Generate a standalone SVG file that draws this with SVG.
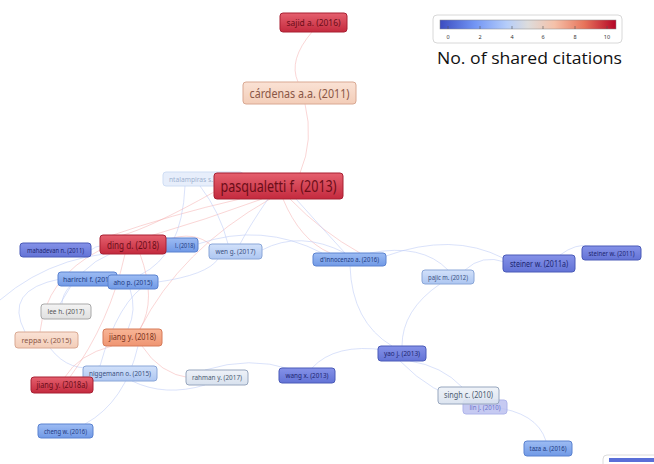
<svg xmlns="http://www.w3.org/2000/svg" width="654" height="464" viewBox="0 0 654 464">
<defs>
<linearGradient id="gBar" x1="0" y1="0" x2="1" y2="0">
<stop offset="0" stop-color="#3b4cc0"/><stop offset="0.2" stop-color="#7396f5"/><stop offset="0.38" stop-color="#b5cdfa"/><stop offset="0.5" stop-color="#dddcdc"/><stop offset="0.65" stop-color="#f5c1a9"/><stop offset="0.82" stop-color="#e7745b"/><stop offset="1" stop-color="#b40426"/>
</linearGradient>
<linearGradient id="gRed" x1="0" y1="0" x2="0" y2="1"><stop offset="0" stop-color="#e5606e"/><stop offset="1" stop-color="#c42a3e"/></linearGradient>
<linearGradient id="gPeach" x1="0" y1="0" x2="0" y2="1"><stop offset="0" stop-color="#fae2d5"/><stop offset="1" stop-color="#f3cdb8"/></linearGradient>
<linearGradient id="gOrange" x1="0" y1="0" x2="0" y2="1"><stop offset="0" stop-color="#f8b596"/><stop offset="1" stop-color="#ef9572"/></linearGradient>
<linearGradient id="gDark" x1="0" y1="0" x2="0" y2="1"><stop offset="0" stop-color="#8592e8"/><stop offset="1" stop-color="#6373d6"/></linearGradient>
<linearGradient id="gBlue" x1="0" y1="0" x2="0" y2="1"><stop offset="0" stop-color="#9dbcf3"/><stop offset="1" stop-color="#7099e6"/></linearGradient>
<linearGradient id="gLight" x1="0" y1="0" x2="0" y2="1"><stop offset="0" stop-color="#d2e1fa"/><stop offset="1" stop-color="#adc6f1"/></linearGradient>
<linearGradient id="gPale" x1="0" y1="0" x2="0" y2="1"><stop offset="0" stop-color="#eef2f8"/><stop offset="1" stop-color="#d8e1ee"/></linearGradient>
<linearGradient id="gGray" x1="0" y1="0" x2="0" y2="1"><stop offset="0" stop-color="#f4f4f4"/><stop offset="1" stop-color="#e0e0e0"/></linearGradient>
</defs>
<style>
text{font-family:"Noto Sans","DejaVu Sans",sans-serif}
.n rect{stroke-width:1}
.red rect{fill:url(#gRed);stroke:#a82033}.red text{fill:#6b0d18}
.peach rect{fill:url(#gPeach);stroke:#d9a892}.peach text{fill:#8a5645}
.orange rect{fill:url(#gOrange);stroke:#d67a58}.orange text{fill:#7a3420}
.dark rect{fill:url(#gDark);stroke:#4a5ab8}.dark text{fill:#1c2570}
.blue rect{fill:url(#gBlue);stroke:#5a82d0}.blue text{fill:#1e3a80}
.light rect{fill:url(#gLight);stroke:#8aa6d8}.light text{fill:#3a5080}
.pale rect{fill:url(#gPale);stroke:#97a6be}.pale text{fill:#4a5a70}
.gray rect{fill:url(#gGray);stroke:#a8a8a8}.gray text{fill:#555}
.faint rect{fill:#dde8fa;stroke:#bcd0f0;opacity:.7}.faint text{fill:#9fb2d0}
.lav rect{fill:#b8bdf0;stroke:#9ca3e6;opacity:.8}.lav text{fill:#6a72c8}
#edges path{fill:none;stroke-width:1}
.pk{stroke:#f4a5a5;opacity:.45}
.bl{stroke:#bccbf6;opacity:.55}
</style>
<g id="edges">
<path class="pk" d="M312,32 Q288,60 298,82"/>
<path class="pk" d="M305,104 Q314,140 300,173"/>
<path class="pk" d="M262,199 Q205,220 150,236"/>
<path class="pk" d="M240,199 Q170,215 110,236"/>
<path class="pk" d="M270,199 Q180,250 140,329"/>
<path class="pk" d="M283,199 Q300,240 330,253"/>
<path class="pk" d="M290,199 Q322,232 360,253"/>
<path class="bl" d="M296,199 Q322,228 345,253"/>
<path class="bl" d="M268,199 Q250,225 240,244"/>
<path class="bl" d="M200,186 Q220,212 228,244"/>
<path class="bl" d="M185,186 Q182,255 140,275"/>
<path class="pk" d="M214,192 Q150,228 120,236"/>
<path class="bl" d="M262,250 Q300,230 345,253"/>
<path class="bl" d="M198,244 Q262,222 322,253"/>
<path class="bl" d="M370,253 Q422,243 448,270"/>
<path class="bl" d="M386,256 Q452,232 503,258"/>
<path class="bl" d="M465,270 Q482,254 505,262"/>
<path class="bl" d="M560,255 Q576,243 590,246"/>
<path class="bl" d="M440,284 Q402,310 402,346"/>
<path class="bl" d="M350,266 Q352,322 392,346"/>
<path class="bl" d="M385,350 Q335,343 312,368"/>
<path class="bl" d="M290,369 Q250,356 205,370"/>
<path class="bl" d="M410,361 Q442,366 462,387"/>
<path class="bl" d="M400,361 Q432,394 470,402"/>
<path class="bl" d="M492,407 Q537,412 546,441"/>
<path class="pk" d="M112,346 Q78,355 65,377"/>
<path class="pk" d="M142,346 Q160,374 190,378"/>
<path class="bl" d="M132,381 Q165,397 205,385"/>
<path class="bl" d="M138,346 Q125,402 85,424"/>
<path class="bl" d="M50,348 Q70,374 100,366"/>
<path class="pk" d="M140,254 Q157,300 140,329"/>
<path class="pk" d="M125,254 Q110,322 70,377"/>
<path class="bl" d="M91,250 Q96,246 100,246"/>
<path class="pk" d="M166,240 Q195,230 212,246"/>
<path class="bl" d="M158,282 Q207,275 218,259"/>
<path class="bl" d="M60,304 Q80,266 110,254"/>
<path class="pk" d="M40,332 Q46,278 100,250"/>
<path class="bl" d="M70,286 Q62,295 62,304"/>
<path class="bl" d="M130,289 Q137,310 128,329"/>
<path class="bl" d="M0,300 Q60,248 150,252"/>
<path class="bl" d="M25,332 Q3,290 60,279"/>
<path class="bl" d="M150,282 Q118,300 100,366"/>
</g>
<g id="legend">
<rect x="433" y="15" width="189" height="28" rx="4" fill="#fff" stroke="#d8d8d8"/>
<rect x="440" y="20" width="176" height="9" fill="url(#gBar)" stroke="#888" stroke-width="0.5"/>
<g stroke="#555" stroke-width="0.6"><line x1="448" y1="26" x2="448" y2="29"/><line x1="480" y1="26" x2="480" y2="29"/><line x1="512" y1="26" x2="512" y2="29"/><line x1="543" y1="26" x2="543" y2="29"/><line x1="575" y1="26" x2="575" y2="29"/><line x1="607" y1="26" x2="607" y2="29"/></g>
<g font-size="5.5" fill="#333" text-anchor="middle"><text x="448" y="39">0</text><text x="480" y="39">2</text><text x="512" y="39">4</text><text x="543" y="39">6</text><text x="575" y="39">8</text><text x="607" y="39">10</text></g>
<text x="437" y="64" font-size="17" fill="#111" textLength="185" lengthAdjust="spacingAndGlyphs" style="font-family:'Open Sans','Liberation Sans',sans-serif">No. of shared citations</text>
</g>
<g id="corner"><rect x="603" y="455" width="60" height="20" rx="4" fill="#fff" stroke="#dcdcdc"/><rect x="609" y="458" width="50" height="4" fill="#5a6fd8"/></g>
<g id="n-sajid" class="n red"><rect x="280" y="13" width="67" height="19" rx="3"/><text x="313.5" y="25.7" font-size="9" text-anchor="middle" textLength="54" lengthAdjust="spacingAndGlyphs">sajid a. (2016)</text></g>
<g id="n-cardenas" class="n peach"><rect x="243" y="82" width="113" height="22" rx="3"/><text x="299.5" y="97.5" font-size="13" text-anchor="middle" textLength="100" lengthAdjust="spacingAndGlyphs">cárdenas a.a. (2011)</text></g>
<g id="n-ntalampiras" class="n faint"><rect x="163" y="172" width="80" height="14" rx="3"/><text x="169" y="181.5" font-size="6.5" textLength="44" lengthAdjust="spacingAndGlyphs">ntalampiras s.</text></g>
<g id="n-pasqualetti" class="n red"><rect x="214" y="173" width="129" height="26" rx="3"/><text x="278.5" y="191.5" font-size="16" text-anchor="middle" textLength="116" lengthAdjust="spacingAndGlyphs">pasqualetti f. (2013)</text></g>
<g id="n-l2018" class="n blue"><rect x="150" y="238" width="48" height="14" rx="3"/><text x="175" y="247.5" font-size="6.5" textLength="20" lengthAdjust="spacingAndGlyphs">l. (2018)</text></g>
<g id="n-ding" class="n red"><rect x="100" y="235" width="66" height="19" rx="3"/><text x="133" y="248.5" font-size="11" text-anchor="middle" textLength="52" lengthAdjust="spacingAndGlyphs">ding d. (2018)</text></g>
<g id="n-mahadevan" class="n dark"><rect x="20" y="243" width="71" height="14" rx="3"/><text x="55.5" y="252.5" font-size="7" text-anchor="middle" textLength="57" lengthAdjust="spacingAndGlyphs">mahadevan n. (2011)</text></g>
<g id="n-wen" class="n light"><rect x="209" y="244" width="53" height="15" rx="3"/><text x="235.5" y="254" font-size="7" text-anchor="middle" textLength="40" lengthAdjust="spacingAndGlyphs">wen g. (2017)</text></g>
<g id="n-harirchi" class="n blue"><rect x="58" y="272" width="59" height="14" rx="3"/><text x="63" y="281.5" font-size="7" textLength="52" lengthAdjust="spacingAndGlyphs">harirchi f. (2015)</text></g>
<g id="n-aho" class="n blue"><rect x="108" y="275" width="50" height="14" rx="3"/><text x="133" y="284.5" font-size="7" text-anchor="middle" textLength="39" lengthAdjust="spacingAndGlyphs">aho p. (2015)</text></g>
<g id="n-lee" class="n gray"><rect x="41" y="304" width="50" height="15" rx="3"/><text x="66" y="314" font-size="7" text-anchor="middle" textLength="37" lengthAdjust="spacingAndGlyphs">lee h. (2017)</text></g>
<g id="n-reppa" class="n peach"><rect x="15" y="332" width="63" height="16" rx="3"/><text x="46.5" y="342.7" font-size="7.5" text-anchor="middle" textLength="50" lengthAdjust="spacingAndGlyphs">reppa v. (2015)</text></g>
<g id="n-jiang2018" class="n orange"><rect x="103" y="329" width="59" height="17" rx="3"/><text x="132.5" y="340.3" font-size="8" text-anchor="middle" textLength="47" lengthAdjust="spacingAndGlyphs">jiang y. (2018)</text></g>
<g id="n-niggemann" class="n light"><rect x="83" y="366" width="74" height="15" rx="3"/><text x="120" y="376" font-size="7.5" text-anchor="middle" textLength="62" lengthAdjust="spacingAndGlyphs">niggemann o. (2015)</text></g>
<g id="n-jiang2018a" class="n red"><rect x="31" y="377" width="62" height="16" rx="3"/><text x="62" y="387.8" font-size="8" text-anchor="middle" textLength="51" lengthAdjust="spacingAndGlyphs">jiang y. (2018a)</text></g>
<g id="n-cheng" class="n blue"><rect x="38" y="424" width="55" height="14" rx="3"/><text x="65.5" y="433.5" font-size="7" text-anchor="middle" textLength="43" lengthAdjust="spacingAndGlyphs">cheng w. (2016)</text></g>
<g id="n-rahman" class="n pale"><rect x="186" y="370" width="62" height="15" rx="3"/><text x="217" y="380" font-size="7.5" text-anchor="middle" textLength="50" lengthAdjust="spacingAndGlyphs">rahman y. (2017)</text></g>
<g id="n-wang" class="n dark"><rect x="279" y="368" width="56" height="15" rx="3"/><text x="307" y="378" font-size="7.5" text-anchor="middle" textLength="43" lengthAdjust="spacingAndGlyphs">wang x. (2013)</text></g>
<g id="n-dinnocenzo" class="n blue"><rect x="313" y="253" width="73" height="13" rx="3"/><text x="349.5" y="262" font-size="7" text-anchor="middle" textLength="59" lengthAdjust="spacingAndGlyphs">d'innocenzo a. (2016)</text></g>
<g id="n-pajic" class="n light"><rect x="422" y="270" width="52" height="14" rx="3"/><text x="448" y="279.5" font-size="7" text-anchor="middle" textLength="40" lengthAdjust="spacingAndGlyphs">pajic m. (2012)</text></g>
<g id="n-yao" class="n dark"><rect x="378" y="346" width="48" height="15" rx="3"/><text x="402" y="356" font-size="7.5" text-anchor="middle" textLength="36" lengthAdjust="spacingAndGlyphs">yao j. (2013)</text></g>
<g id="n-steiner2011a" class="n dark"><rect x="503" y="255" width="72" height="17" rx="3"/><text x="539" y="266.7" font-size="9" text-anchor="middle" textLength="58" lengthAdjust="spacingAndGlyphs">steiner w. (2011a)</text></g>
<g id="n-steiner2011" class="n dark"><rect x="582" y="246" width="59" height="14" rx="3"/><text x="611.5" y="255.5" font-size="7" text-anchor="middle" textLength="46" lengthAdjust="spacingAndGlyphs">steiner w. (2011)</text></g>
<g id="n-lin" class="n lav"><rect x="463" y="400" width="44" height="14" rx="3"/><text x="485" y="409.5" font-size="7" text-anchor="middle" textLength="31" lengthAdjust="spacingAndGlyphs">lin j. (2010)</text></g>
<g id="n-singh" class="n pale"><rect x="438" y="387" width="61" height="17" rx="3" fill-opacity="0.9"/><text x="468.5" y="398.3" font-size="8" text-anchor="middle" textLength="49" lengthAdjust="spacingAndGlyphs">singh c. (2010)</text></g>
<g id="n-taza" class="n blue"><rect x="524" y="441" width="48" height="15" rx="3"/><text x="548" y="451" font-size="6.5" text-anchor="middle" textLength="37" lengthAdjust="spacingAndGlyphs">taza a. (2016)</text></g>
</svg>
